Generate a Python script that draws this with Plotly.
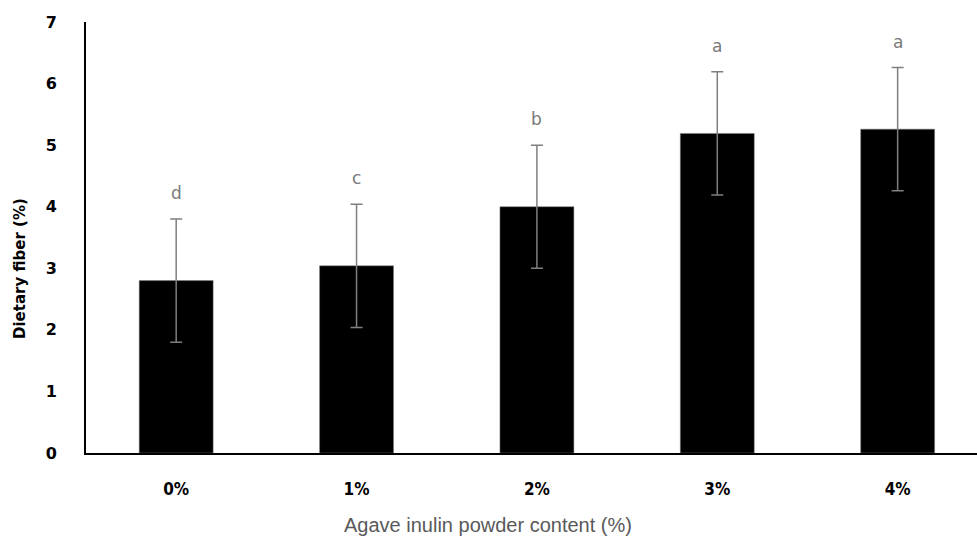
import plotly.graph_objects as go

categories = ["0%", "1%", "2%", "3%", "4%"]
fiber = [2.80, 3.04, 4.00, 5.19, 5.26]
err = [1.0, 1.0, 1.0, 1.0, 1.0]
letters = ["d", "c", "b", "a", "a"]
y_ticks = [0, 1, 2, 3, 4, 5, 6, 7]

fig = go.Figure()
fig.add_trace(go.Bar(
    x=categories, y=fiber,
    marker=dict(color="black", line=dict(color="#7f7f7f", width=0.5)),
    error_y=dict(type="data", array=err, visible=True, color="#7f7f7f",
                 thickness=1.5, width=6),
    width=0.41,
))

for c, v, e, l in zip(categories, fiber, err, letters):
    fig.add_annotation(x=c, y=v + e, text=l, showarrow=False,
                       yanchor="bottom", yshift=14,
                       font=dict(family="DejaVu Sans", size=17, color="#7a7a7a"))

fig.add_annotation(xref="paper", yref="paper", x=(488 - 86) / 891, y=0,
                   yanchor="middle", yshift=-72, showarrow=False,
                   text="Agave inulin powder content (%)",
                   font=dict(family="Liberation Sans", size=20, color="#595959"))

fig.add_annotation(xref="paper", yref="paper", x=0, y=(453 - 269) / 431,
                   xanchor="center", xshift=-66, showarrow=False, textangle=-90,
                   text="Dietary fiber (%)",
                   font=dict(family="DejaVu Sans", size=15, color="black", weight="bold"))

fig.update_layout(
    width=977, height=539,
    margin=dict(l=86, r=0, t=22, b=86),
    plot_bgcolor="white", paper_bgcolor="white",
    showlegend=False,
    xaxis=dict(
        range=[-0.5, 4.44], showline=True, linecolor="black", linewidth=2,
        showgrid=False, ticks="", ticklabelstandoff=20,
        tickfont=dict(family="DejaVu Sans Condensed", size=17, color="black", weight="bold"),
    ),
    yaxis=dict(
        range=[0, 7], tickvals=y_ticks, showline=True, linecolor="black", linewidth=2,
        showgrid=False, zeroline=False, ticks="", ticklabelstandoff=24,
        tickfont=dict(family="DejaVu Sans", size=16, color="black", weight="bold"),
    ),
)

fig.write_html("out.html")
